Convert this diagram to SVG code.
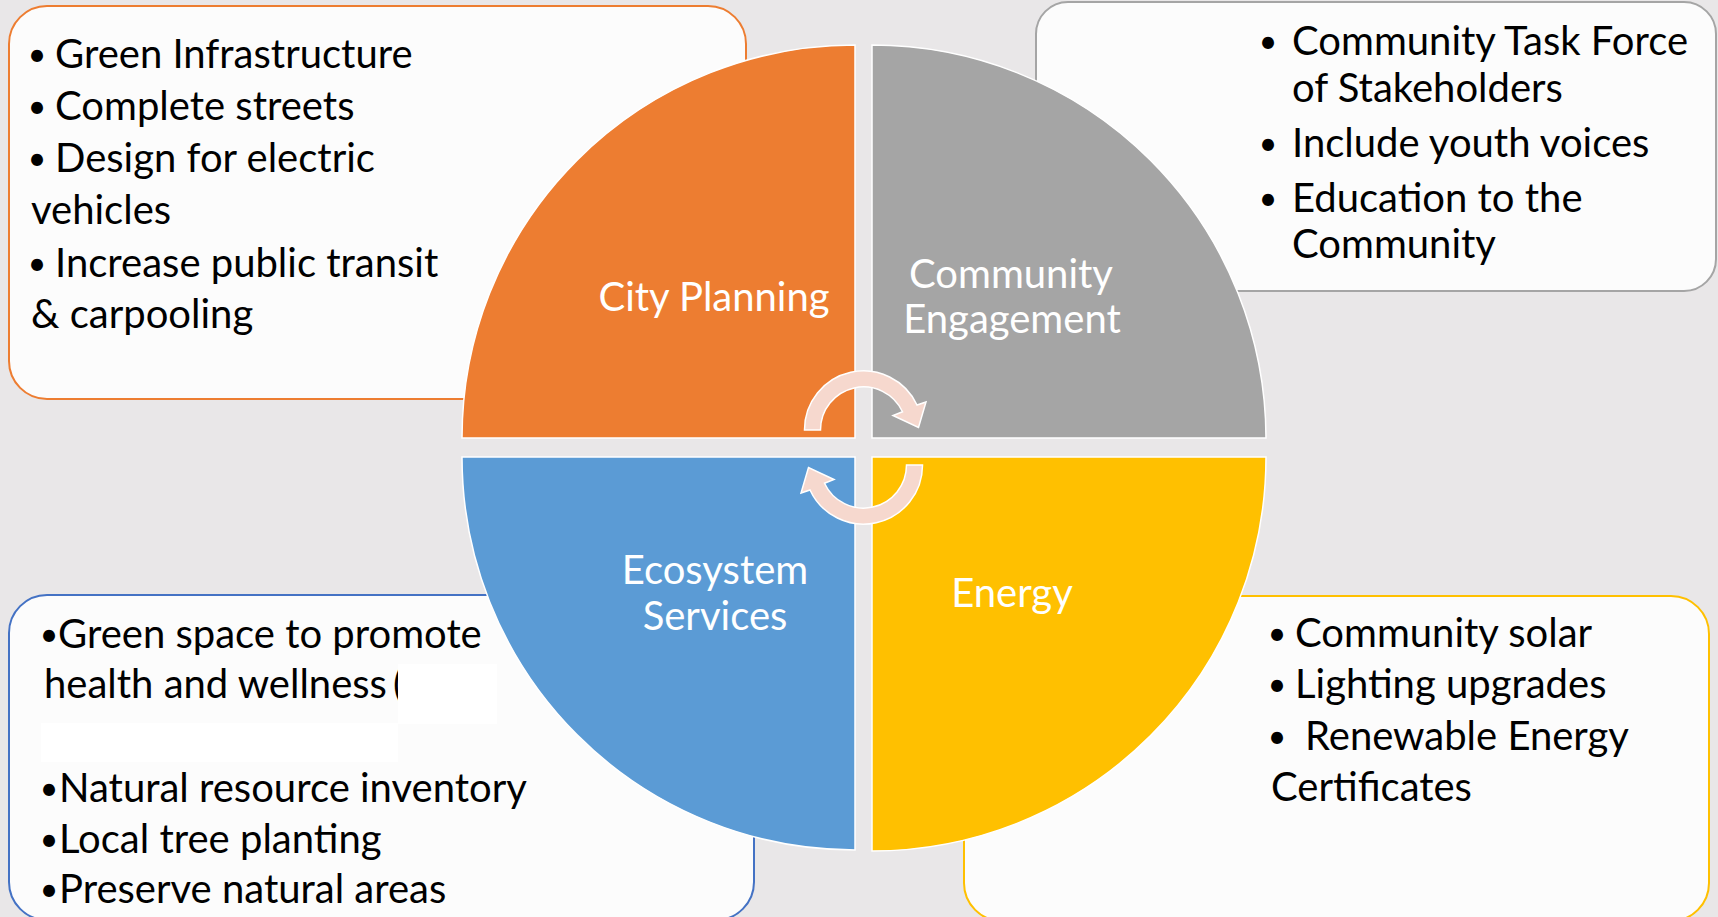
<svg xmlns="http://www.w3.org/2000/svg" width="1718" height="917" viewBox="0 0 1718 917">
<style>
.box{fill:#FCFCFC;stroke-width:2}
.t{font-family:Lato,"Open Sans","Liberation Sans",sans-serif;font-size:40px;fill:#000}
.lbl{font-family:Lato,"Open Sans","Liberation Sans",sans-serif;font-size:40px;fill:#fff;text-anchor:middle}
.q{stroke:#fff;stroke-width:1.5}
.arr{fill:#F6D8CE;stroke:#fff;stroke-width:1.5}
.b{text-anchor:middle;font-size:32px}
</style>
<rect width="1718" height="917" fill="#E9E7E8"/>

<g id="box-city-planning">
<rect class="box" x="9" y="6" width="737" height="393" rx="38" stroke="#ED7D31"/>
<text class="t"><tspan class="b" x="37" y="66">•</tspan><tspan x="55" y="68">Green Infrastructure</tspan></text>
<text class="t"><tspan class="b" x="37" y="118">•</tspan><tspan x="55" y="120">Complete streets</tspan></text>
<text class="t"><tspan class="b" x="37" y="170">•</tspan><tspan x="55" y="172">Design for electric</tspan></text>
<text class="t" x="31" y="224">vehicles</text>
<text class="t"><tspan class="b" x="37" y="275">•</tspan><tspan x="55" y="277">Increase public transit</tspan></text>
<text class="t" x="31" y="328">&amp; carpooling</text>
</g>

<g id="box-community-engagement">
<rect class="box" x="1036" y="2" width="680" height="289" rx="32" stroke="#A5A5A5"/>
<text class="t"><tspan class="b" x="1268" y="53">•</tspan><tspan x="1292" y="55">Community Task Force</tspan></text>
<text class="t" x="1292" y="102">of Stakeholders</text>
<text class="t"><tspan class="b" x="1268" y="155">•</tspan><tspan x="1292" y="157">Include youth voices</tspan></text>
<text class="t"><tspan class="b" x="1268" y="210">•</tspan><tspan x="1292" y="212">Education to the</tspan></text>
<text class="t" x="1292" y="258">Community</text>
</g>

<g id="box-ecosystem-services">
<rect class="box" x="9" y="595" width="745" height="325" rx="38" stroke="#4472C4"/>
<text class="t"><tspan class="b" x="49" y="646">•</tspan><tspan x="58" y="648">Green space to promote</tspan></text>
<text class="t"><tspan x="44" y="698">health and wellness</tspan><tspan x="393" y="698">(</tspan></text>
<rect x="398" y="664" width="99" height="60" fill="#FFFFFF"/>
<rect x="41" y="723" width="357" height="39" fill="#FFFFFF"/>
<text class="t"><tspan class="b" x="49" y="800">•</tspan><tspan x="59" y="802">Natural resource inventory</tspan></text>
<text class="t"><tspan class="b" x="49" y="851">•</tspan><tspan x="59" y="853">Local tree planting</tspan></text>
<text class="t"><tspan class="b" x="49" y="901">•</tspan><tspan x="59" y="903">Preserve natural areas</tspan></text>
</g>

<g id="box-energy">
<rect class="box" x="964" y="596" width="745" height="325" rx="38" stroke="#FFC000"/>
<text class="t"><tspan class="b" x="1277" y="645">•</tspan><tspan x="1295" y="647">Community solar</tspan></text>
<text class="t"><tspan class="b" x="1277" y="696">•</tspan><tspan x="1295" y="698">Lighting upgrades</tspan></text>
<text class="t"><tspan class="b" x="1277" y="748">•</tspan><tspan x="1305" y="750">Renewable Energy</tspan></text>
<text class="t" x="1271" y="801">Certificates</text>
</g>

<g id="quad-city-planning">
<path class="q" d="M855,438 L462,438 A393,393 0 0 1 855,45 Z" fill="#ED7D31"/>
<text class="lbl" x="714" y="311">City Planning</text>
</g>
<g id="quad-community-engagement">
<path class="q" d="M872,438 L872,45 A394,394 0 0 1 1266,438 Z" fill="#A5A5A5"/>
<text class="lbl" x="1011" y="288">Community</text>
<text class="lbl" x="1012" y="333">Engagement</text>
</g>
<g id="quad-ecosystem-services">
<path class="q" d="M855,457 L855,850 A393,393 0 0 1 462,457 Z" fill="#5B9BD5"/>
<text class="lbl" x="715" y="584">Ecosystem</text>
<text class="lbl" x="715" y="630">Services</text>
</g>
<g id="quad-energy">
<path class="q" d="M872,457 L1266,457 A394,394 0 0 1 872,851 Z" fill="#FFC000"/>
<text class="lbl" x="1012" y="607">Energy</text>
</g>

<g id="connectors">
<path class="arr" d="M804.5,430 A59,59 0 0 1 917,405 L926,402 L918.5,427.5 L893,415.5 L902.5,411.8 A43,43 0 0 0 820.5,430 Z"/>
<path class="arr" transform="rotate(180 863.5 447.5)" d="M804.5,430 A59,59 0 0 1 917,405 L926,402 L918.5,427.5 L893,415.5 L902.5,411.8 A43,43 0 0 0 820.5,430 Z"/>
</g>
</svg>
